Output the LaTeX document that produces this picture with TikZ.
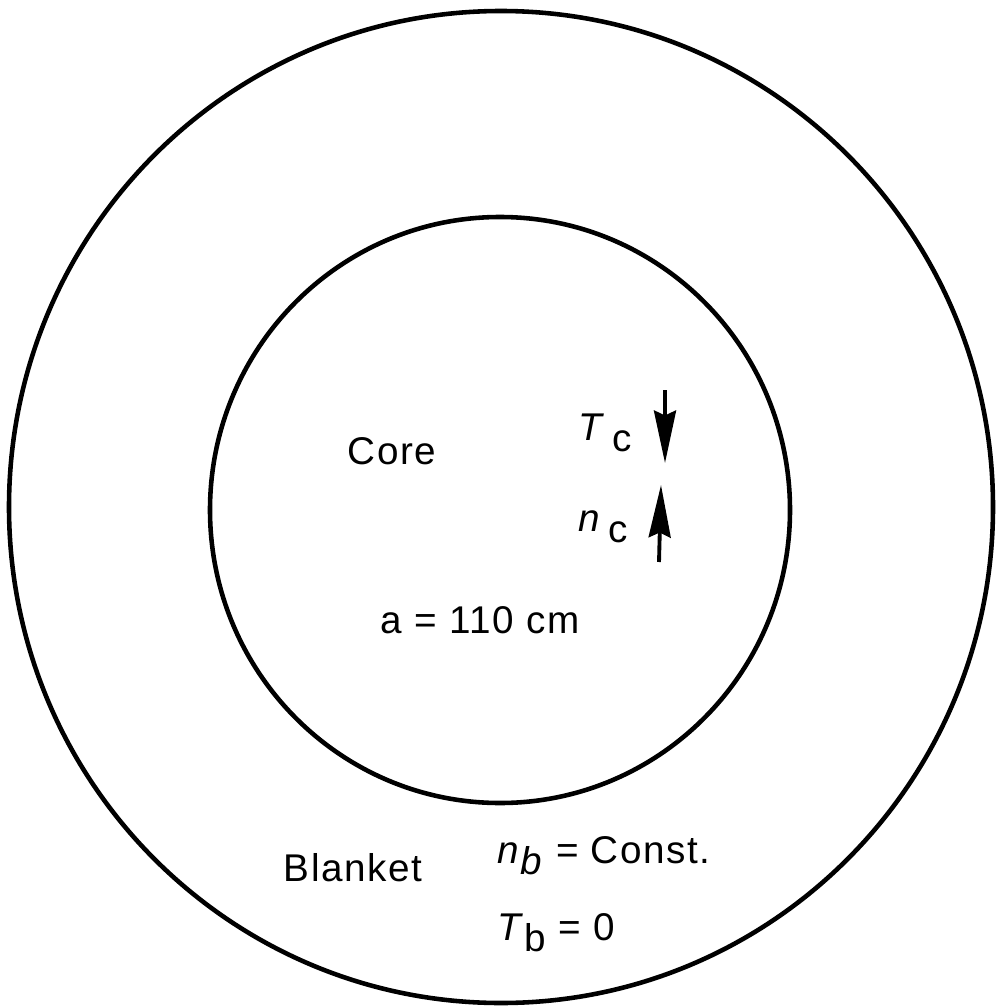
\documentclass[tikz,border=0pt]{standalone}
\usepackage{fontspec}
\setmainfont{Liberation Sans}[LetterSpace=4]
\usetikzlibrary{arrows.meta}

\newcommand{\lowsub}[1]{\raisebox{-0.55ex}{#1}}

\begin{document}
\begin{tikzpicture}[x=0.02cm, y=-0.02cm,
  ring/.style={line width=2.6pt},
  lbl/.style={font=\fontsize{22}{26}\selectfont, inner sep=0pt},
  arr/.style={line width=2.2pt, -{Stealth[length=1.05cm, width=0.44cm, inset=0.1cm]}}
]
  \useasboundingbox (0,0) rectangle (1002,1007);

  % blanket and core boundaries
  \draw[ring] (501,507) ellipse [x radius=492, y radius=496];
  \draw[ring] (500,510) ellipse [x radius=290, y radius=293];

  % core labels
  \node[lbl] (core) at (392,451) {Core};
  \node[lbl] (tc)   at (605,433) {\textit{T}\,\lowsub{c}};
  \node[lbl] (nc)   at (603,527) {\textit{n}\,\lowsub{c}};
  \node[lbl] (rad)  at (480,620) {a = 110 cm};

  % blanket labels
  \node[lbl] (blanket) at (353,868) {Blanket};
  \node[lbl] (nb)      at (604,856) {\textit{n}\lowsub{\textit{b}} = Const.};
  \node[lbl] (tb)      at (556,933) {\textit{T}\lowsub{b} = 0};

  % arrows
  \coordinate (tctail) at (665,390);
  \coordinate (tctip)  at (665,463);
  \coordinate (nctail) at (659,562);
  \coordinate (nctip)  at (661,485);
  \draw[arr] (tctail) -- (tctip);
  \draw[arr] (nctail) -- (nctip);
\end{tikzpicture}
\end{document}
